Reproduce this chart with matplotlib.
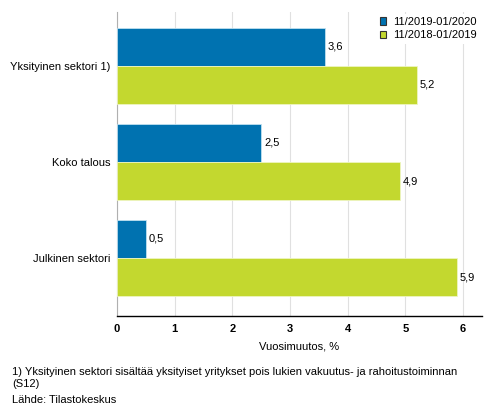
import matplotlib.pyplot as plt
import numpy as np

plt.rcParams['font.family'] = ['Liberation Sans', 'DejaVu Sans']

categories = ["Yksityinen sektori 1)", "Koko talous", "Julkinen sektori"]
series_names = ["11/2019-01/2020", "11/2018-01/2019"]
values_new = [3.6, 2.5, 0.5]
values_old = [5.2, 4.9, 5.9]
colors = ["#0072b0", "#c3d82f"]
fs = 8

fig = plt.figure(figsize=(4.93, 4.16), dpi=100)
ax = fig.add_axes([0.2373, 0.2404, 0.7404, 0.7308])

y = np.arange(len(categories))
h = 0.396
b1 = ax.barh(y - h / 2, values_new, height=h, color=colors[0], edgecolor="#bfe0f0",
             linewidth=0.6, label=series_names[0], zorder=3)
b2 = ax.barh(y + h / 2, values_old, height=h, color=colors[1], edgecolor="#eef5c0",
             linewidth=0.6, label=series_names[1], zorder=3)

for bars, vals in ((b1, values_new), (b2, values_old)):
    for bar, v in zip(bars, vals):
        ax.text(v + 0.05, bar.get_y() + bar.get_height() / 2, f"{v:.1f}".replace(".", ","),
                va="center", ha="left", fontsize=fs)

ax.set_xlim(0, 6.33)
ax.set_ylim(2.604, -0.5625)
ax.set_yticks(y)
ax.set_yticklabels(categories, fontsize=fs)
ax.set_xticks(range(7))
ax.set_xticklabels([str(i) for i in range(7)], fontsize=fs, fontweight="bold")
ax.tick_params(length=0, pad=6)
ax.tick_params(axis="y", pad=5)
ax.grid(axis="x", color="#e0e0e0", linewidth=0.8, zorder=0)
for s in ("top", "right"):
    ax.spines[s].set_visible(False)
ax.spines["left"].set_color("#b0b0b0")
ax.spines["bottom"].set_color("black")
ax.spines["bottom"].set_linewidth(1.0)
ax.set_xlabel("Vuosimuutos, %", fontsize=fs, labelpad=5)

leg = ax.legend(handles=[b1, b2], loc="upper right", bbox_to_anchor=(1.01, 1.013), frameon=True,
                fontsize=fs, handlelength=0.6, handleheight=0.6, handletextpad=0.6,
                labelspacing=0.3, borderpad=0.3, fancybox=False)
leg.get_frame().set_edgecolor("none")
leg.get_frame().set_facecolor("white")
leg.get_frame().set_alpha(1)
for p in leg.get_patches():
    p.set_edgecolor("#333333")
    p.set_linewidth(0.8)

fig.text(0.024, 0.065, "1) Yksityinen sektori sisältää yksityiset yritykset pois lukien vakuutus- ja rahoitustoiminnan\n(S12)",
         fontsize=fs, va="bottom", linespacing=1.3)
fig.text(0.024, 0.026, "Lähde: Tilastokeskus", fontsize=fs, va="bottom")

fig.savefig("out.png", dpi=100)
